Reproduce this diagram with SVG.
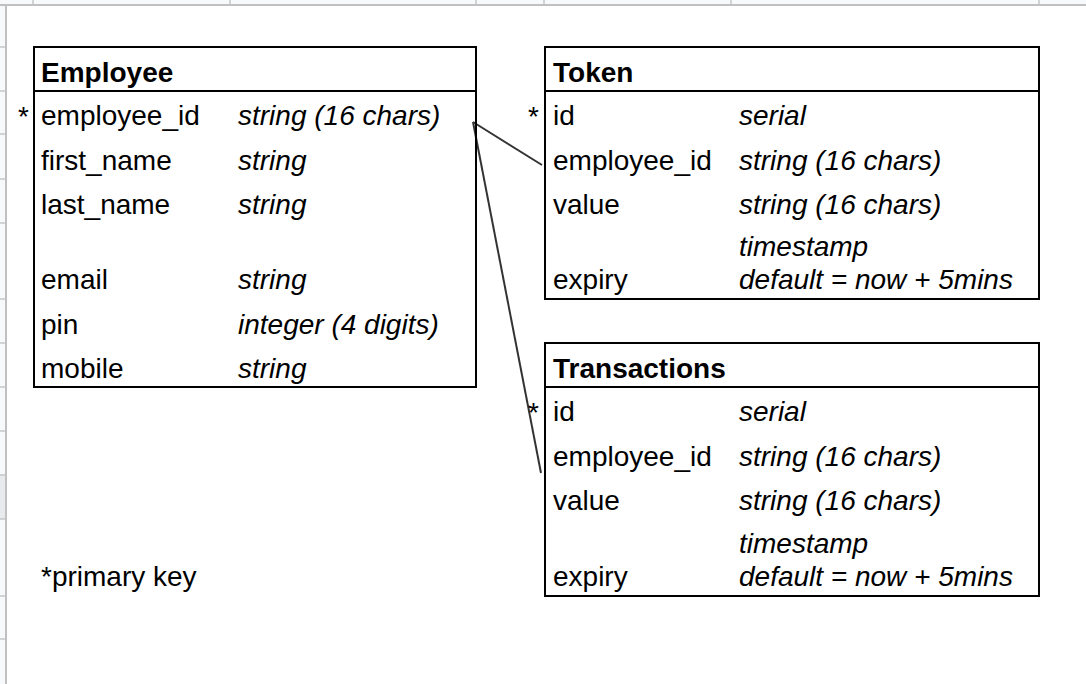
<svg xmlns="http://www.w3.org/2000/svg" width="1086" height="684" viewBox="0 0 1086 684">
<style>
text{font-family:"Liberation Sans",Arial,sans-serif;font-size:28px;fill:#000}
.h{font-weight:bold}
.t{font-style:italic}
.pk{text-anchor:end}
.box{fill:none;stroke:#000;stroke-width:2}
.div{stroke:#000;stroke-width:2}
.conn{stroke:#333;stroke-width:2;fill:none}
.rl{stroke:#c6c6c6;stroke-width:1.5}
</style>
<rect x="0" y="0" width="1086" height="684" fill="#fff"/>
<g id="sheet-chrome">
<rect x="0" y="0" width="1086" height="4" fill="#f8f9fa"/>
<rect x="0" y="0" width="5" height="684" fill="#f8f9fa"/>
<rect x="0" y="475" width="5" height="44" fill="#e8eaed"/>
<g class="rl">
<line x1="33" y1="0" x2="33" y2="4"/>
<line x1="230" y1="0" x2="230" y2="4"/>
<line x1="476" y1="0" x2="476" y2="4"/>
<line x1="544" y1="0" x2="544" y2="4"/>
<line x1="731" y1="0" x2="731" y2="4"/>
<line x1="1039" y1="0" x2="1039" y2="4"/>
<line x1="0" y1="47" x2="5" y2="47"/>
<line x1="0" y1="91" x2="5" y2="91"/>
<line x1="0" y1="134" x2="5" y2="134"/>
<line x1="0" y1="179" x2="5" y2="179"/>
<line x1="0" y1="223" x2="5" y2="223"/>
<line x1="0" y1="299" x2="5" y2="299"/>
<line x1="0" y1="343" x2="5" y2="343"/>
<line x1="0" y1="387" x2="5" y2="387"/>
<line x1="0" y1="431" x2="5" y2="431"/>
<line x1="0" y1="475" x2="5" y2="475"/>
<line x1="0" y1="519" x2="5" y2="519"/>
<line x1="0" y1="596" x2="5" y2="596"/>
<line x1="0" y1="639" x2="5" y2="639"/>
</g>
<rect x="0" y="4" width="1086" height="2" fill="#c0c0c0"/>
<rect x="5" y="4" width="2" height="680" fill="#c0c0c0"/>
</g>
<g id="connectors">
<line class="conn" x1="473" y1="122" x2="542" y2="165"/>
<line class="conn" x1="473" y1="122" x2="541" y2="473"/>
</g>
<g id="employee">
<rect class="box" x="34" y="47" width="442" height="340"/>
<line class="div" x1="34" y1="91" x2="476" y2="91"/>
<text class="h" x="41" y="82">Employee</text>
<text class="pk" x="29" y="126">*</text>
<text x="41" y="125">employee_id</text><text class="t" x="238" y="125">string (16 chars)</text>
<text x="41" y="170">first_name</text><text class="t" x="238" y="170">string</text>
<text x="41" y="214">last_name</text><text class="t" x="238" y="214">string</text>
<text x="41" y="289">email</text><text class="t" x="238" y="289">string</text>
<text x="41" y="334">pin</text><text class="t" x="238" y="334">integer (4 digits)</text>
<text x="41" y="378">mobile</text><text class="t" x="238" y="378">string</text>
</g>
<g id="token">
<rect class="box" x="545" y="47" width="494" height="252"/>
<line class="div" x1="545" y1="91" x2="1039" y2="91"/>
<text class="h" x="553" y="82">Token</text>
<text class="pk" x="539" y="126">*</text>
<text x="553" y="125">id</text><text class="t" x="739" y="125">serial</text>
<text x="553" y="170">employee_id</text><text class="t" x="739" y="170">string (16 chars)</text>
<text x="553" y="214">value</text><text class="t" x="739" y="214">string (16 chars)</text>
<text class="t" x="739" y="256">timestamp</text>
<text x="553" y="289">expiry</text><text class="t" x="739" y="289">default = now + 5mins</text>
</g>
<g id="transactions">
<rect class="box" x="545" y="343" width="494" height="253"/>
<line class="div" x1="545" y1="387" x2="1039" y2="387"/>
<text class="h" x="553" y="378">Transactions</text>
<text class="pk" x="539" y="422">*</text>
<text x="553" y="421">id</text><text class="t" x="739" y="421">serial</text>
<text x="553" y="466">employee_id</text><text class="t" x="739" y="466">string (16 chars)</text>
<text x="553" y="510">value</text><text class="t" x="739" y="510">string (16 chars)</text>
<text class="t" x="739" y="553">timestamp</text>
<text x="553" y="586">expiry</text><text class="t" x="739" y="586">default = now + 5mins</text>
</g>
<g id="legend">
<text x="41" y="586">*primary key</text>
</g>
</svg>
